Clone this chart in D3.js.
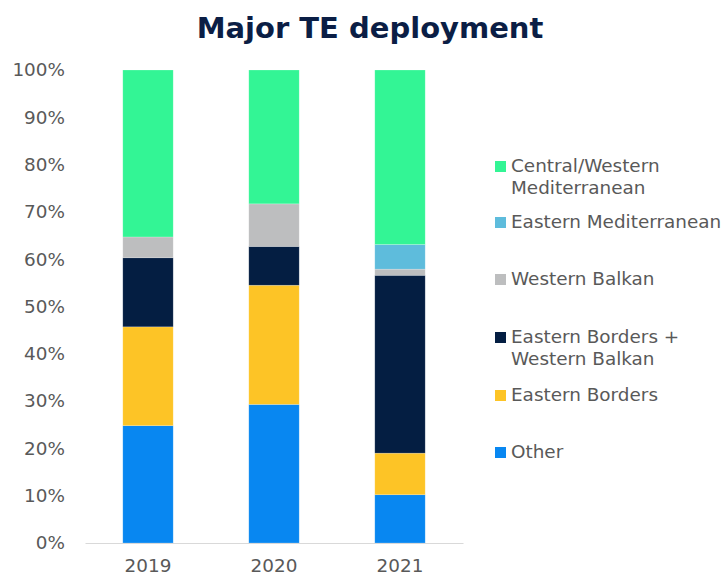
<!DOCTYPE html>
<html><head><meta charset="utf-8">
<script src="https://cdn.jsdelivr.net/npm/d3@7"></script>
<style>body{margin:0;background:#fff;} svg{display:block;}</style>
</head><body>
<svg id="chart" width="724" height="575"></svg>
<script>
const years = ["2019", "2020", "2021"];
const seriesNames = ["Other", "Eastern Borders", "Eastern Borders + Western Balkan", "Western Balkan", "Eastern Mediterranean", "Central/Western Mediterranean"];
const other = [24.8, 29.3, 10.2];
const easternBorders = [20.9, 25.2, 8.8];
const ebPlusWb = [14.6, 8.2, 37.6];
const westernBalkan = [4.4, 9.0, 1.3];
const easternMed = [0, 0, 5.2];
const centralWesternMed = [35.3, 28.3, 36.9];
const seriesColors = ["#0887f1", "#fdc426", "#041e42", "#bdbebf", "#5ebcdc", "#33f595"];
const yTicks = [0, 10, 20, 30, 40, 50, 60, 70, 80, 90, 100];
const legendItems = [
  {name: "Central/Western Mediterranean", lines: ["Central/Western", "Mediterranean"]},
  {name: "Eastern Mediterranean", lines: ["Eastern Mediterranean"]},
  {name: "Western Balkan", lines: ["Western Balkan"]},
  {name: "Eastern Borders + Western Balkan", lines: ["Eastern Borders +", "Western Balkan"]},
  {name: "Eastern Borders", lines: ["Eastern Borders"]},
  {name: "Other", lines: ["Other"]}
];

const seriesValues = [other, easternBorders, ebPlusWb, westernBalkan, easternMed, centralWesternMed];
const rows = years.map((yr, i) => {
  const r = {year: yr};
  seriesNames.forEach((s, k) => r[s] = seriesValues[k][i]);
  return r;
});

const svg = d3.select("#chart");
const font = "Verdana, 'DejaVu Sans', sans-serif";
const mLeft = 85, mRight = 463, mTop = 70, mBottom = 543;
const labelSize = 18.4;

const x = d3.scaleBand().domain(years).range([mLeft, mRight]).paddingInner(0.6).paddingOuter(0.3);
const y = d3.scaleLinear().domain([0, 100]).range([mBottom, mTop]);
const color = d3.scaleOrdinal().domain(seriesNames).range(seriesColors);

svg.append("text").attr("x", 370).attr("y", 38).attr("text-anchor", "middle")
  .attr("font-family", font).attr("font-weight", "bold").attr("font-size", 29)
  .attr("fill", "#0b1e45").text("Major TE deployment");

const stack = d3.stack().keys(seriesNames)(rows);
svg.append("g").selectAll("g").data(stack).join("g")
  .attr("fill", d => color(d.key))
  .selectAll("rect").data(d => d).join("rect")
  .attr("x", d => x(d.data.year))
  .attr("width", x.bandwidth())
  .attr("y", d => y(d[1]))
  .attr("height", d => y(d[0]) - y(d[1]))
  .attr("stroke", "#ffffff").attr("stroke-opacity", 0.35).attr("stroke-width", 0.6);

// x axis
const xAxis = svg.append("g").attr("transform", `translate(0,${mBottom})`)
  .call(d3.axisBottom(x).tickSize(0).tickPadding(16));
xAxis.select(".domain").attr("stroke", "#d9d9d9").attr("stroke-width", 1.2);
xAxis.selectAll("text").attr("font-family", font).attr("font-size", labelSize).attr("fill", "#595959");

// y axis
const yAxis = svg.append("g").attr("transform", `translate(${mLeft},0)`)
  .call(d3.axisLeft(y).tickValues(yTicks).tickFormat(d => d + "%").tickSize(0).tickPadding(20));
yAxis.select(".domain").remove();
yAxis.selectAll("text").attr("font-family", font).attr("font-size", labelSize).attr("fill", "#595959");

// legend
const legendY = [166, 222, 279, 337, 395, 452];
const lg = svg.append("g");
legendItems.forEach((it, i) => {
  const g = lg.append("g").attr("transform", `translate(495,${legendY[i]})`);
  g.append("rect").attr("x", 0).attr("y", -5).attr("width", 11).attr("height", 11).attr("fill", color(it.name));
  it.lines.forEach((l, j) => {
    g.append("text").attr("x", 16).attr("y", j * 22).attr("dy", "0.35em")
      .attr("font-family", font).attr("font-size", labelSize).attr("fill", "#595959").text(l);
  });
});
</script>
</body></html>
